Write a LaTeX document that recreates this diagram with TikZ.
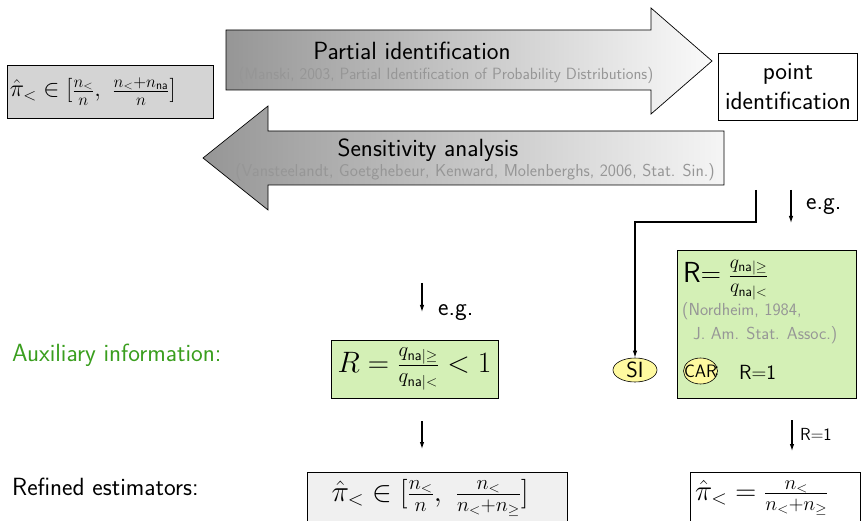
\RequirePackage{fix-cm}
\documentclass[tikz,border=0pt]{standalone}
\usetikzlibrary{arrows.meta,shapes.geometric}
\definecolor{boxgreen}{RGB}{212,240,182}
\definecolor{auxgreen}{RGB}{58,158,30}
\definecolor{citegray}{RGB}{150,150,150}
\definecolor{siyellow}{RGB}{255,250,160}
\definecolor{leftgray}{RGB}{212,212,212}
\definecolor{refgray}{RGB}{240,240,240}
\newcommand\mainfs{\sffamily\fontsize{24.88}{29}\selectfont}
\newcommand\citefs{\sffamily\fontsize{16.3}{19}\selectfont}
\newcommand\mathfs{\sffamily\fontsize{24.2}{29}\selectfont}
\newcommand\mathbigfs{\sffamily\fontsize{29.5}{34}\selectfont}
\begin{document}
\begin{tikzpicture}[x=1pt,y=-1pt,font=\sffamily,
  arr/.style={-{Latex[length=7pt,width=4.5pt]},line width=1.1pt},
  plainbox/.style={draw=black,line width=0.7pt,inner sep=0pt},
  ell/.style={ellipse,draw=black,fill=siyellow,line width=0.6pt,inner sep=0pt}]
\useasboundingbox (0,0) rectangle (862,521);
\clip (0,0) rectangle (862,521);
% big arrows
\shade[left color={rgb,255:red,150;green,150;blue,150},right color={rgb,255:red,250;green,250;blue,250},draw=black,line width=0.7pt]
  (226,30) -- (651,30) -- (651,8) -- (712,61) -- (651,114) -- (651,90) -- (226,90) -- cycle;
\node[font=\mainfs] (pi) at (412,51) {Partial identification};
\node[font=\citefs,text=citegray] (manski) at (446,75) {(Manski, 2003, Partial Identification of Probability Distributions)};
\shade[left color={rgb,255:red,150;green,150;blue,150},right color={rgb,255:red,245;green,245;blue,245},draw=black,line width=0.7pt]
  (203,158) -- (268,106) -- (268,131) -- (724,131) -- (724,185) -- (268,185) -- (268,210) -- cycle;
\node[font=\mainfs] (sa) at (428,150) {Sensitivity analysis};
\node[font=\sffamily\fontsize{17.3}{20}\selectfont,text=citegray] (vans) at (475,172) {(Vansteelandt, Goetghebeur, Kenward, Molenberghs, 2006, Stat. Sin.)};
% left box
\node[plainbox,fill=leftgray,minimum width=206pt,minimum height=53pt] (lb) at (110,91.5) {};
\node[font=\mathfs,anchor=west,inner sep=3pt] (lbt) at (lb.west) {$\hat\pi_<\in\bigl[\frac{n_<}{n},\ \frac{n_<+n_{\mathsf{na}}}{n}\bigr]$};
% point identification
\node[plainbox,fill=white,minimum width=139pt,minimum height=67pt,font=\mainfs,align=center] (pid) at (788,86.5) {point\\[1pt]identification};
% connector to SI
\coordinate (sout) at (756,190);
\node[ell,minimum width=44pt,minimum height=24pt] (si) at (635,370) {};
\node[font=\sffamily\fontsize{22}{26}\selectfont,inner sep=0pt] (sit) at (si.center) {SI};
\draw[arr] (sout) -- ++(0,32) -| (si.north);
% right e.g.
\coordinate (eg1a) at (791,190);
\coordinate (eg1b) at (791,223);
\draw[arr] (eg1a) -- (eg1b);
\node[font=\mainfs,anchor=west,inner sep=0pt] (eg1) at (806,207) {e.g.};
% right green box
\node[plainbox,fill=boxgreen,minimum width=179pt,minimum height=148pt] (gb) at (766.5,324) {};
\node[anchor=base west,inner sep=0pt] (rdef) at (683,283) {{\sffamily\fontsize{29}{30}\selectfont R}{\fontsize{28}{30}\selectfont$=\frac{q_{\mathsf{na}|\geq}}{q_{\mathsf{na}|<}}$}};
\node[font=\sffamily\fontsize{17.4}{24}\selectfont,text=citegray,align=left,anchor=north west,inner sep=0pt] (nord) at (682,302) {(Nordheim, 1984,\\\ \ J. Am. Stat. Assoc.)};
\node[ell,minimum width=34pt,minimum height=26pt] (car) at (700.5,371) {};
\node[font=\sffamily\fontsize{18}{20}\selectfont,inner sep=0pt] (cart) at (car.center) {CAR};
\node[font=\sffamily\fontsize{20}{22}\selectfont,anchor=west,inner sep=0pt] (carc) at (714,371) {:};
\node[font=\sffamily\fontsize{20.5}{22}\selectfont,anchor=west,inner sep=0pt] (r1) at (739,372) {R$=$1};
% middle column
\coordinate (eg2a) at (422,283);
\coordinate (eg2b) at (422,312);
\draw[arr] (eg2a) -- (eg2b);
\node[font=\mainfs,anchor=west,inner sep=0pt] (eg2) at (438,313) {e.g.};
\node[font=\mainfs,text=auxgreen,anchor=west,inner sep=0pt] (aux) at (12,355) {Auxiliary information:};
\node[plainbox,fill=boxgreen,minimum width=167pt,minimum height=58pt,font=\sffamily\fontsize{29.5}{33}\selectfont] (mb) at (414.5,369) {$R=\frac{q_{\mathsf{na}|\geq}}{q_{\mathsf{na}|<}}<1$};
\coordinate (a3a) at (422,421);
\coordinate (a3b) at (422,449);
\draw[arr] (a3a) -- (a3b);
\node[font=\mainfs,anchor=west,inner sep=0pt] (ref) at (12,487) {Refined estimators:};
\node[plainbox,fill=refgray,minimum width=260pt,minimum height=62pt,anchor=north west] (rb) at (307,472) {};
\node[font=\mathbigfs] (rbt) at (430,498) {$\hat\pi_<\in\bigl[\frac{n_<}{n},\ \frac{n_<}{n_<+n_\geq}\bigr]$};
% right bottom
\coordinate (a4a) at (792,420);
\coordinate (a4b) at (792,451);
\draw[arr] (a4a) -- (a4b);
\node[font=\sffamily\fontsize{17.5}{20}\selectfont,anchor=west,inner sep=0pt] (r1b) at (800,434) {R$=$1};
\node[plainbox,fill=white,minimum width=170pt,minimum height=62pt,anchor=north west] (pb) at (690,472) {};
\node[font=\sffamily\fontsize{29}{34}\selectfont,anchor=west,inner sep=0pt] (pbt) at (695,498) {$\hat\pi_<=\frac{n_<}{n_<+n_\geq}$};
\end{tikzpicture}
\end{document}
